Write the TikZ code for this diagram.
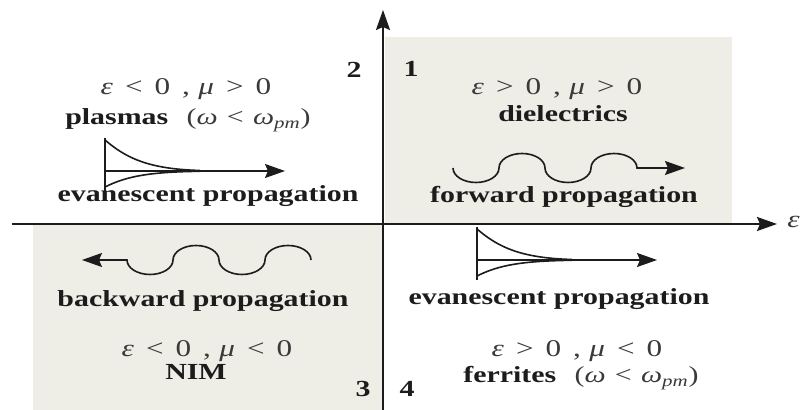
\documentclass[tikz,border=0pt]{standalone}
\usepackage{fontspec}
\setmainfont{Liberation Serif}[FakeStretch=1.3]
\usepackage{xcolor}
\definecolor{paper}{HTML}{EEEEE6}
\definecolor{ink}{HTML}{1C1C1C}
\definecolor{inkgray}{HTML}{3A3A3A}
\usetikzlibrary{arrows.meta}
\tikzset{
  >={Stealth[length=10pt,width=7pt,inset=1.5pt]},
  axis/.style   ={->,draw=ink,line width=1pt},
  wave/.style   ={draw=ink,line width=0.8pt},
  lbl/.style    ={font=\fontsize{11.5}{13}\selectfont\bfseries,text=ink,
                  anchor=base,inner sep=0pt},
  cond/.style   ={font=\fontsize{12}{14}\selectfont,text=inkgray,
                  anchor=base,inner sep=0pt},
  quad/.style   ={font=\fontsize{11.5}{13}\selectfont\bfseries,text=ink,
                  anchor=base,inner sep=0pt},
}
\newcommand{\epsmu}[2]{\textit{ε}\hspace{.5em}#1\hspace{.5em}0\hspace{.5em},\hspace{.35em}\textit{μ}\hspace{.5em}#2\hspace{.5em}0}
\newcommand{\wpm}{{\mdseries\color{inkgray}(\textit{ω}\hspace{.4em}<\hspace{.4em}\textit{ω}\textsubscript{\textit{pm}})}}

\begin{document}
\begin{tikzpicture}[x=0.5pt,y=0.5pt]
\useasboundingbox (-383,-186) rectangle (420,224);
% shaded quadrants
\fill[paper] (2,0) rectangle (349,187);
\fill[paper] (-350,0) rectangle (0,-186);
% axes
\coordinate (xl) at (-371,0);
\coordinate (xr) at (394,0);
\coordinate (yb) at (0,-186);
\coordinate (yt) at (0,214);
\draw[axis] (xl) -- (xr);
\draw[axis] (yb) -- (yt);
\node[cond,font=\fontsize{12}{14}\selectfont\itshape,anchor=base west] (epsax) at (404,-4) {ε};
% quadrant numbers
\node[quad] (n2) at (-29,146) {2};
\node[quad] (n1) at (28,147) {1};
\node[quad] (n3) at (-20,-173) {3};
\node[quad] (n4) at (24,-173) {4};
% quadrant 2
\node[cond] (c2) at (-197,129) {\epsmu{<}{>}};
\node[lbl] (m2) at (-195,99) {plasmas\hspace{.8em}\wpm};
\node[lbl] (p2) at (-175,22) {evanescent propagation};
% quadrant 1
\node[cond] (c1) at (174,129) {\epsmu{>}{>}};
\node[lbl] (m1) at (180,102) {dielectrics};
\node[lbl] (p1) at (181,21) {forward propagation};
% quadrant 3
\node[lbl] (p3) at (-180,-83) {backward propagation};
\node[cond] (c3) at (-176,-133) {\epsmu{<}{<}};
\node[lbl] (m3) at (-187,-156) {NIM};
% quadrant 4
\node[lbl] (p4) at (176,-81) {evanescent propagation};
\node[cond] (c4) at (194,-133) {\epsmu{>}{<}};
\node[lbl] (m4) at (198,-159) {ferrites\hspace{.8em}\wpm};
% evanescent decay
\foreach \x/\y in {-278/53, 94/-36}
  {\draw[wave,line width=1pt] (\x,\y+33) -- (\x,\y-20);
   \draw[wave,->] (\x,\y) -- ++(180,0);
   \draw[wave] (\x,\y+31) .. controls (\x+22,\y+12) and (\x+45,\y+2) .. (\x+95,\y+0.5);
   \draw[wave] (\x,\y-16) .. controls (\x+22,\y-5) and (\x+45,\y-1) .. (\x+95,\y-0.3);}
% forward wave
\draw[wave,->] (70,56)
  arc[start angle=180,end angle=360,x radius=23,y radius=14.5]
  arc[start angle=180,end angle=0,x radius=23,y radius=14.5]
  arc[start angle=180,end angle=360,x radius=23,y radius=14.5]
  arc[start angle=180,end angle=0,x radius=23,y radius=14.5]
  -- (302,56);
% backward wave
\draw[wave,->] (-72,-36)
  arc[start angle=0,end angle=180,x radius=23,y radius=14.5]
  arc[start angle=0,end angle=-180,x radius=23,y radius=14.5]
  arc[start angle=0,end angle=180,x radius=23,y radius=14.5]
  arc[start angle=0,end angle=-180,x radius=23,y radius=14.5]
  -- (-301,-36);
\end{tikzpicture}
\end{document}
